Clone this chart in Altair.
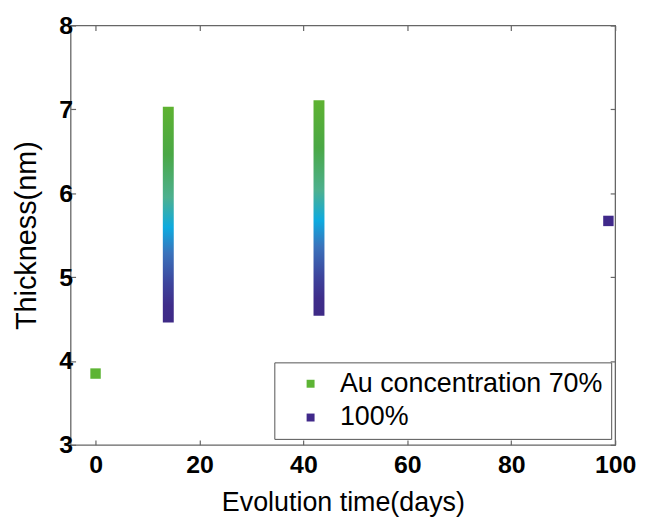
import altair as alt
import pandas as pd

# ---- data ----
series_names = ["Au concentration 70%", "100%"]
series_colors = ["#5db434", "#40298a"]
green_x = [0]
green_y = [3.85]
purple_x = [98.7]
purple_y = [5.67]
bar_x = [14, 43]
bar_low = [4.46, 4.54]
bar_high = [7.03, 7.11]
x_ticks = [0, 20, 40, 60, 80, 100]
y_ticks = [3, 4, 5, 6, 7, 8]

pts = pd.DataFrame({
    "x": green_x + purple_x,
    "y": green_y + purple_y,
    "series": [series_names[0]] * len(green_x) + [series_names[1]] * len(purple_x),
})
bars = pd.DataFrame({"x": bar_x, "lo": bar_low, "hi": bar_high})

FONT = "Liberation Sans"
xscale = alt.Scale(domain=[-4.8, 100], nice=False, zero=False, padding=0)
yscale = alt.Scale(domain=[3, 8], nice=False, zero=False, padding=0)

grad = alt.Gradient(
    gradient="linear", x1=0, x2=0, y1=0, y2=1,
    stops=[
        alt.GradientStop(offset=0.0, color="#5eb231"),
        alt.GradientStop(offset=0.22, color="#4aa845"),
        alt.GradientStop(offset=0.42, color="#4db08f"),
        alt.GradientStop(offset=0.56, color="#0eaadf"),
        alt.GradientStop(offset=0.68, color="#3a72bb"),
        alt.GradientStop(offset=0.82, color="#3d449c"),
        alt.GradientStop(offset=0.92, color="#3f2d8a"),
        alt.GradientStop(offset=1.0, color="#3e2a86"),
    ],
)

bar_layer = alt.Chart(bars).mark_bar(size=11, color=grad).encode(
    x=alt.X("x:Q", scale=xscale, axis=alt.Axis(
        orient="top", labels=False, title=None, domain=False, ticks=True,
        tickSize=5, offset=-5, values=x_ticks, grid=False,
        tickColor="#666666", tickWidth=1.2)),
    y=alt.Y("lo:Q", scale=yscale, axis=alt.Axis(
        orient="right", labels=False, title=None, domain=False, ticks=True,
        tickSize=5, offset=-5, values=y_ticks, grid=False,
        tickColor="#666666", tickWidth=1.2)),
    y2="hi:Q",
)

pt_layer = alt.Chart(pts).mark_square(size=110, opacity=1).encode(
    x=alt.X("x:Q", scale=xscale, axis=alt.Axis(
        orient="bottom", title="Evolution time(days)", domain=False,
        tickSize=5, offset=-5, values=x_ticks, grid=False, labelFlush=False,
        tickColor="#666666", tickWidth=1.2, labelPadding=8,
        labelFont=FONT, labelFontSize=25, labelFontWeight="bold",
        labelColor="black", titleFont=FONT, titleFontSize=27,
        titleFontWeight="normal", titleColor="black", titlePadding=12)),
    y=alt.Y("y:Q", scale=yscale, axis=alt.Axis(
        orient="left", title="Thickness(nm)", domain=False,
        tickSize=5, offset=-5, values=y_ticks, grid=False, labelFlush=False,
        tickColor="#666666", tickWidth=1.2, labelPadding=-2,
        labelFont=FONT, labelFontSize=25, labelFontWeight="bold",
        labelColor="black", titleFont=FONT, titleFontSize=29,
        titleFontWeight="normal", titleColor="black", titlePadding=17)),
    color=alt.Color("series:N", scale=alt.Scale(domain=series_names, range=series_colors),
                    legend=alt.Legend(
                        title=None, orient="none", legendX=205, legendY=339,
                        direction="vertical", strokeColor="#555555",
                        fillColor="white", padding=8, symbolOffset=15,
                        labelOffset=16, symbolSize=64, symbolType="square",
                        labelFont=FONT, labelFontSize=27, labelColor="black",
                        rowPadding=6, labelLimit=400, symbolStrokeWidth=0,
                        cornerRadius=0)),
)

chart = alt.layer(bar_layer, pt_layer).resolve_axis(
    x="independent", y="independent"
).properties(
    width=548, height=422,
    padding={"left": 5, "top": 4, "right": 5, "bottom": 2},
).configure_view(
    stroke="#666666", strokeWidth=1.3
)

chart.save("out.html", embed_options={"renderer": "svg", "actions": False})
